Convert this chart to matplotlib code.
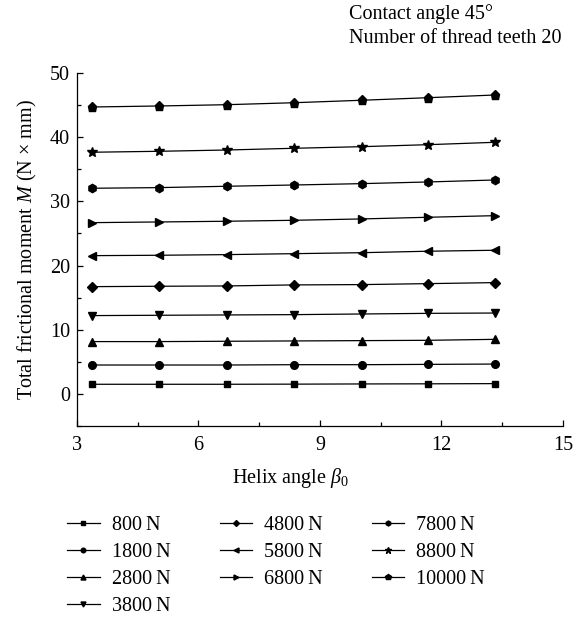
import matplotlib
matplotlib.use("Agg")
import matplotlib.pyplot as plt
from matplotlib.ticker import MultipleLocator

plt.rcParams['font.family'] = ['Liberation Serif', 'DejaVu Serif']
plt.rcParams['mathtext.fontset'] = 'custom'
plt.rcParams['mathtext.rm'] = 'Liberation Serif'
plt.rcParams['mathtext.it'] = 'Liberation Serif:italic'

helix_angle = [3.36, 5.03, 6.70, 8.37, 10.03, 11.67, 13.32]
loads = ["800\u2009N", "1800\u2009N", "2800\u2009N", "3800\u2009N", "4800\u2009N",
         "5800\u2009N", "6800\u2009N", "7800\u2009N", "8800\u2009N", "10000\u2009N"]
m_800 = [1.5, 1.5, 1.5, 1.52, 1.55, 1.57, 1.6]
m_1800 = [4.5, 4.5, 4.5, 4.55, 4.55, 4.6, 4.65]
m_2800 = [8.15, 8.15, 8.2, 8.25, 8.3, 8.35, 8.5]
m_3800 = [12.2, 12.25, 12.3, 12.35, 12.45, 12.55, 12.6]
m_4800 = [16.71, 16.77, 16.82, 16.98, 17.03, 17.18, 17.34]
m_5800 = [21.54, 21.6, 21.7, 21.85, 22.0, 22.23, 22.38]
m_6800 = [26.68, 26.79, 26.9, 27.05, 27.26, 27.52, 27.77]
m_7800 = [32.04, 32.14, 32.35, 32.55, 32.76, 33.02, 33.33]
m_8800 = [37.65, 37.8, 38.0, 38.27, 38.52, 38.83, 39.2]
m_10000 = [44.7, 44.86, 45.06, 45.37, 45.75, 46.15, 46.57]
series = [m_800, m_1800, m_2800, m_3800, m_4800, m_5800, m_6800, m_7800, m_8800, m_10000]
markers = ['s', 'o', '^', 'v', 'D', '<', '>', 'h', '*', 'p']
msizes = [5, 5.5, 6, 6, 5, 6, 6, 6, 7.5, 6.5]

FS = 14.5

fig = plt.figure(figsize=(5.84, 6.18), dpi=100)
ax = fig.add_axes([0.1318, 0.3107, 0.964 - 0.1318, 0.8819 - 0.3107])

handles = []
for y, mk, ms, lab in zip(series, markers, msizes, loads):
    h, = ax.plot(helix_angle, y, color='black', lw=0.9, marker=mk, ms=ms,
                 label=lab)
    handles.append(h)

ax.set_xlim(3, 15)
ax.set_ylim(-5, 50)
ax.xaxis.set_major_locator(MultipleLocator(3))
ax.xaxis.set_minor_locator(MultipleLocator(1.5))
ax.yaxis.set_major_locator(MultipleLocator(10))
ax.yaxis.set_minor_locator(MultipleLocator(5))
ax.tick_params(which='both', direction='in', labelsize=FS, width=0.9)
ax.tick_params(which='major', length=4)
ax.tick_params(which='minor', length=3)
ax.tick_params(axis='x', pad=7)
ax.tick_params(axis='y', pad=5)
ax.spines['top'].set_visible(False)
ax.spines['right'].set_visible(False)
for s in ('left', 'bottom'):
    ax.spines[s].set_linewidth(0.9)

ax.set_xlabel(r"Helix angle $\it{\beta}_0$", fontsize=FS, labelpad=8)
ax.xaxis.label.set_x(0.44)
ax.set_ylabel(r"Total frictional moment $\it{M}$ (N × mm)", fontsize=FS, labelpad=8)

fig.text(0.597, 0.977, "Contact angle 45°", fontsize=FS, ha='left', va='center')
fig.text(0.597, 0.938, "Number of thread teeth 20", fontsize=FS, ha='left', va='center')

fig.legend(handles=handles, loc='upper left', bbox_to_anchor=(0.098, 0.1815),
           ncol=3, frameon=False, fontsize=FS, markerscale=0.6,
           handlelength=1.6, handletextpad=0.6, columnspacing=2.45,
           labelspacing=0.4, borderpad=0)

fig.savefig("out.png", dpi=100)
